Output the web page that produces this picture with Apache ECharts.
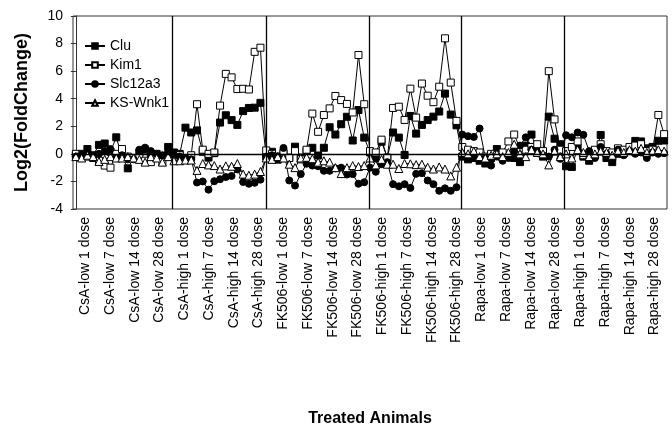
<!DOCTYPE html>
<html>
<head>
<meta charset="utf-8">
<script src="https://cdn.jsdelivr.net/npm/echarts@6/dist/echarts.min.js"></script>
<style>
  html, body { margin: 0; padding: 0; background: #fff; }
  #mychart { width: 672px; height: 432px; }
</style>
</head>
<body>
<div id="mychart"></div>
<script>
// tick labels under the plot (one per treatment / dose)
const doseLabels = [
  "CsA-low 1 dose", "CsA-low 7 dose", "CsA-low 14 dose", "CsA-low 28 dose",
  "CsA-high 1 dose", "CsA-high 7 dose", "CsA-high 14 dose", "CsA-high 28 dose",
  "FK506-low 1 dose", "FK506-low 7 dose", "FK506-low 14 dose", "FK506-low 28 dose",
  "FK506-high 1 dose", "FK506-high 7 dose", "FK506-high 14 dose", "FK506-high 28 dose",
  "Rapa-low 1 dose", "Rapa-low 7 dose", "Rapa-low 14 dose", "Rapa-low 28 dose",
  "Rapa-high 1 dose", "Rapa-high 7 dose", "Rapa-high 14 dose", "Rapa-high 28 dose"
];
const seriesNames = ["Clu", "Kim1", "Slc12a3", "KS-Wnk1"];

// one value per animal (103 animals), log2 fold change
const clu = [
  -0.15, 0.0, 0.35, -0.1, 0.65, 0.75, 0.15, 1.2, -0.2, -1.05, -0.3, 0.1, 0.3, -0.1, 0.0, -0.2, 0.5,
  0.1, 0.0, 1.9, 1.55, 1.7, 0.15, -0.27, 0.05, 2.27, 2.8, 2.45, 2.1, 3.1, 3.33, 3.35, 3.7,
  -0.2,
  0.15, -0.42, 0.0, -0.27, 0.52, -0.27, 0.21, 0.44, -0.12, 0.44, 1.93, 1.4, 2.15, 2.69, 0.97, 3.18, 1.18,
  0.1, -0.3, 0.88, -0.27, 1.55, 1.18, -0.08, 2.75, 1.47, 2.1, 2.45, 2.7, 3.07, 4.37, 2.85, 2.07,
  -0.2, -0.4, -0.3, -0.5, -0.7, -0.3, 0.35, -0.2, -0.1, -0.3, -0.6, 0.6, 1.4, 0.2, -0.2, 2.7, 1.1, 0.7,
  -0.9, -0.95, 0.45, -0.2, -0.5, -0.1, 1.37, -0.3, -0.6, 0.0, 0.2, 0.3, 0.94, 0.9, 0.4, 0.5, 0.95, 0.97
];
const kim1 = [
  0.0, -0.1, -0.2, -0.3, -0.5, -0.85, -1.0, 0.0, 0.35, -0.2, -0.3, -0.3, -0.5, -0.6, -0.2, -0.6, -0.1,
  -0.2, -0.1, -0.3, -0.1, 3.6, 0.3, 0.0, 0.1, 3.5, 5.8, 5.55, 4.7, 4.72, 4.67, 7.4, 7.7,
  0.25,
  0.0, -0.2, 0.1, -0.3, 0.2, -0.4, 0.3, 2.92, 1.6, 2.82, 3.3, 4.2, 3.9, 3.62, 3.0, 7.17, 3.6,
  0.2, 0.1, 1.03, -0.3, 3.33, 3.42, 2.46, 4.73, 2.63, 5.1, 4.22, 3.75, 4.87, 8.38, 5.17, 2.39,
  0.5, 0.3, 0.2, 0.1, -0.2, 0.0, -0.1, 0.1, 0.9, 1.4, 0.4, 0.3, 0.5, 0.7, 0.2, 6.0, 2.5, 0.3,
  0.2, 0.5, 0.9, -0.1, 0.0, 0.3, 0.7, 0.2, 0.1, 0.4, 0.3, 0.5, 0.6, 0.7, 0.2, 0.3, 2.82, 1.43
];
const slc12a3 = [
  -0.2, -0.1, 0.1, -0.3, 0.0, 0.2, 0.35, -0.3, -0.1, -0.4, -0.4, 0.3, 0.45, 0.2, 0.0, -0.1, 0.1,
  -0.1, -0.2, -0.3, -0.4, -2.08, -2.0, -2.6, -1.98, -1.84, -1.68, -1.6, -1.13, -2.04, -2.17, -2.1, -1.87,
  -0.2,
  -0.1, -0.2, 0.43, -1.93, -2.3, -1.47, -0.72, -0.85, -0.9, -1.23, -1.23, -1.05, -1.0, -1.5, -1.47, -2.17, -2.06,
  -1.0, -1.3, -0.75, -0.6, -2.2, -2.35, -2.2, -2.47, -1.45, -1.4, -1.93, -2.2, -2.68, -2.5, -2.68, -2.42,
  1.4, 1.28, 1.23, 1.84, -0.3, -0.85, -0.2, -0.5, -0.3, 0.2, 0.6, 1.2, 0.3, 0.1, -0.1, -0.2, 0.3, -0.36,
  1.35, 1.2, 1.55, 1.38, 0.2, -0.3, 0.5, 0.0, -0.5, 0.3, -0.1, 0.2, 0.0, 0.1, -0.3, 0.1, 0.0, 0.05
];
const ksWnk1 = [
  -0.2, -0.3, -0.1, -0.2, -0.55, -0.4, -0.2, -0.3, -0.3, -0.2, -0.3, -0.4, -0.6, -0.2, -0.3, -0.6, -0.2,
  -0.5, -0.5, -0.45, -0.45, -1.2, -0.7, -0.8, -0.85, -1.1, -0.87, -0.9, -0.7, -1.47, -1.55, -1.47, -1.28,
  -0.3,
  -0.4, -0.2, -0.3, -0.75, -1.0, -0.3, -0.25, -0.35, -0.6, -0.5, -0.6, -1.0, -1.43, -1.0, -0.85, -0.92, -0.85,
  -0.3, -0.8, -0.4, -0.75, -0.75, -1.06, -0.7, -0.72, -0.78, -0.75, -0.97, -1.1, -0.95, -1.1, -1.6, -0.97,
  0.1, 0.0, 0.2, -0.2, -0.3, -0.1, 0.0, -0.2, 0.1, 0.7, 0.0, -0.2, 0.3, 0.1, 0.0, -0.8, 0.2, -0.2,
  0.0, -0.3, 0.3, 0.1, -0.2, 0.0, 0.2, 0.1, -0.1, 0.2, 0.1, 0.3, 0.2, 0.4, 0.1, 0.2, 0.3, 0.2
];
// where the treatment groups split (in animal index units)
const groupBreaks = [16.66, 32.96, 50.82, 66.77, 84.63];
const yTicks = [-4, -2, 0, 2, 4, 6, 8, 10];

const font = "Liberation Sans, Arial, sans-serif";
const toPairs = arr => arr.map((v, i) => [i, v]);

function makeSeries(name, values, symbol, fill) {
  return {
    name: name,
    type: "line",
    xAxisIndex: 0,
    data: toPairs(values),
    symbol: symbol,
    symbolSize: symbol === "triangle" ? 8 : 7,
    showAllSymbol: true,
    lineStyle: { color: "#000", width: 1 },
    itemStyle: { color: fill, borderColor: "#000", borderWidth: 1 },
    emphasis: { disabled: true }
  };
}

const series = [
  makeSeries(seriesNames[0], clu, "rect", "#000"),
  makeSeries(seriesNames[1], kim1, "rect", "#fff"),
  makeSeries(seriesNames[2], slc12a3, "circle", "#000"),
  makeSeries(seriesNames[3], ksWnk1, "triangle", "#fff")
];
// zero line + group separators
series[0].markLine = {
  silent: true,
  symbol: "none",
  label: { show: false },
  lineStyle: { color: "#000", width: 1.3, type: "solid" },
  data: [{ yAxis: 0 }].concat(groupBreaks.map(b => ({ xAxis: b })))
};

const option = {
  animation: false,
  backgroundColor: "#fff",
  textStyle: { fontFamily: font },
  grid: {
    left: 73, right: 5, top: 16, bottom: 223,
    show: true, borderColor: "#333", borderWidth: 1
  },
  legend: {
    data: seriesNames,
    orient: "vertical",
    left: 79, top: 34,
    itemWidth: 20, itemHeight: 7, itemGap: 5,
    textStyle: { fontSize: 14, color: "#000", fontFamily: font }
  },
  xAxis: [
    {
      type: "value",
      min: -0.5, max: 102.5,
      axisLine: { show: false },
      axisTick: { show: false },
      axisLabel: { show: false },
      splitLine: { show: false }
    },
    {
      type: "category",
      position: "bottom",
      data: doseLabels,
      boundaryGap: true,
      axisLine: { show: false },
      axisTick: { show: false },
      axisLabel: {
        rotate: 90, interval: 0, margin: 8,
        fontSize: 14, color: "#000", fontFamily: font
      },
      name: "Treated Animals",
      nameLocation: "middle",
      nameGap: 202,
      nameTextStyle: { fontSize: 16, fontWeight: "bold", color: "#000", fontFamily: font }
    }
  ],
  yAxis: {
    type: "value",
    min: yTicks[0], max: yTicks[yTicks.length - 1], interval: 2,
    axisLine: { show: true, lineStyle: { color: "#333" } },
    axisTick: { show: true, length: 5, lineStyle: { color: "#333" } },
    axisLabel: { fontSize: 14, color: "#000", margin: 10, fontFamily: font },
    splitLine: { show: false },
    name: "Log2(FoldChange)",
    nameLocation: "middle",
    nameGap: 42,
    nameTextStyle: { fontSize: 18, fontWeight: "bold", color: "#000", fontFamily: font }
  },
  series: series
};

const myChart = echarts.init(document.getElementById("mychart"));
myChart.setOption(option);
</script>
</body>
</html>
